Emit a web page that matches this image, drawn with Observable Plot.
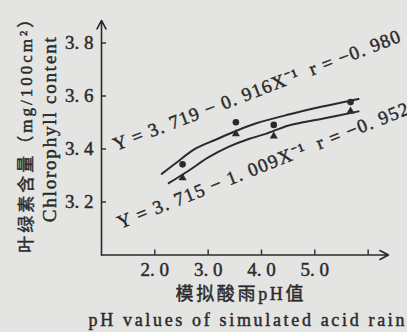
<!DOCTYPE html>
<html>
<head>
<meta charset="utf-8">
<script src="https://cdn.jsdelivr.net/npm/d3@7"></script>
<script src="https://cdn.jsdelivr.net/npm/@observablehq/plot@0.6"></script>
<style>
html, body { margin: 0; padding: 0; background: #e4e4e2; }
svg { display: block; }
</style>
</head>
<body>
<div id="chart"></div>
<script>
// ---- data ----
const phCircle = [2.52, 3.52, 4.23, 5.67];
const chlCircle = [3.342, 3.501, 3.491, 3.577];
const phTriangle = [2.52, 3.52, 4.23, 5.67];
const chlTriangle = [3.291, 3.457, 3.448, 3.543];

const fitUpperX = [2.13, 2.39, 2.76, 3.14, 3.51, 3.89, 4.51, 5.14, 5.82];
const fitUpperY = [3.306, 3.346, 3.401, 3.435, 3.467, 3.496, 3.530, 3.560, 3.589];
const fitLowerX = [2.26, 2.64, 3.01, 3.39, 3.76, 4.08, 4.51, 5.14, 5.82];
const fitLowerY = [3.271, 3.319, 3.369, 3.409, 3.438, 3.457, 3.489, 3.514, 3.542];

const xTicks = [2, 3, 4, 5, 6];
const xTickLabels = ["2. 0", "3. 0", "4. 0", "5. 0", ""];
const yTicks = [3.2, 3.4, 3.6, 3.8];
const yTickLabels = ["3. 2", "3. 4", "3. 6", "3. 8"];

const axisOrigin = [1.0, 3.0];
const axisEnds = [6.38, 3.885];

const eqLabels = ["Y = 3. 719 − 0. 916X⁻¹  r = −0. 980", "Y = 3. 715 − 1. 009X⁻¹  r = −0. 952"];
const eqX = [1.27, 1.35];
const eqY = [3.392, 3.098];

const yTitleCN = "叶绿素含量（mg/100cm²）";
const yTitleEN = "Chlorophyll content";
const xTitleCN = "模拟酸雨pH值";
const xTitleEN = "pH values of simulated acid rain";

// ---- chart ----
const ink = "#2a2a2a";
const serif = "'Liberation Serif', 'Noto Sans CJK SC', serif";
const heavy = { fill: ink, stroke: ink, strokeWidth: 0.45 };

const svg = Plot.plot({
  width: 407,
  height: 332,
  marginLeft: 101,
  marginRight: 18,
  marginTop: 16,
  marginBottom: 77.5,
  x: { domain: [1, 6.4] },
  y: { domain: [3, 3.9] },
  style: { background: "#e4e4e2", color: ink, fontFamily: serif, fontSize: "19px" },
  marks: [
    // axis lines with arrowheads
    Plot.arrow([0], { x1: axisOrigin[0], y1: axisOrigin[1], x2: axisEnds[0], y2: axisOrigin[1], stroke: ink, strokeWidth: 1.6, headLength: 9, headAngle: 55 }),
    Plot.arrow([0], { x1: axisOrigin[0], y1: axisOrigin[1], x2: axisOrigin[0], y2: axisEnds[1], stroke: ink, strokeWidth: 1.6, headLength: 9, headAngle: 55 }),
    // inward ticks
    Plot.axisX(xTicks, { tickSize: -5, fill: "none", stroke: ink, strokeWidth: 1.4, label: null }),
    Plot.axisY(yTicks, { tickSize: -5, fill: "none", stroke: ink, strokeWidth: 1.4, label: null }),
    // tick labels
    Plot.axisX(xTicks, { tickSize: 0, tickPadding: 7, stroke: "none", fill: ink, fontSize: 19, label: null,
      tickFormat: d => xTickLabels[xTicks.indexOf(d)] }),
    Plot.axisY(yTicks, { tickSize: 0, tickPadding: 8, stroke: "none", fill: ink, fontSize: 19, label: null,
      tickFormat: d => yTickLabels[yTicks.findIndex(t => Math.abs(t - d) < 1e-9)] }),
    // fitted curves
    Plot.line(fitUpperX, { x: d => d, y: (d, i) => fitUpperY[i], curve: "catmull-rom", stroke: ink, strokeWidth: 2 }),
    Plot.line(fitLowerX, { x: d => d, y: (d, i) => fitLowerY[i], curve: "catmull-rom", stroke: ink, strokeWidth: 2 }),
    // observations
    Plot.dot(phCircle, { x: d => d, y: (d, i) => chlCircle[i], r: 3.3, fill: ink, stroke: "none" }),
    Plot.dot(phTriangle, { x: d => d, y: (d, i) => chlTriangle[i], r: 3, symbol: "triangle", fill: ink, stroke: "none" }),
    // regression equations
    Plot.text(eqLabels, { x: (d, i) => eqX[i], y: (d, i) => eqY[i], text: d => d,
      rotate: (d, i) => [-21, -21.7][i], textAnchor: "start", lineAnchor: "bottom", fontSize: 19, ...heavy }),
    // axis titles
    Plot.text([yTitleCN], { frameAnchor: "left", textAnchor: "middle", dx: -75, dy: -4, rotate: -90, text: d => d, fontSize: 17, lineAnchor: "middle", ...heavy }),
    Plot.text([yTitleEN], { frameAnchor: "left", textAnchor: "middle", dx: -52, dy: -6, rotate: -90, text: d => d, fontSize: 19, lineAnchor: "middle", ...heavy }),
    Plot.text([xTitleCN], { frameAnchor: "bottom", textAnchor: "middle", dx: -6, dy: 39.7, text: d => d, fontSize: 18, lineAnchor: "middle", ...heavy }),
    Plot.text([xTitleEN], { frameAnchor: "bottom", textAnchor: "middle", dx: 1, dy: 65.5, text: d => d, fontSize: 18, lineAnchor: "middle", ...heavy })
  ]
});

// thicken tick labels slightly like the printed original
d3.select(svg).selectAll("g[aria-label='x-axis tick label'] text, g[aria-label='y-axis tick label'] text")
  .attr("stroke", ink).attr("stroke-width", 0.45);

function fit(str, len) {
  d3.select(svg).selectAll("text")
    .filter(function () { return this.textContent === str; })
    .attr("textLength", len)
    .attr("lengthAdjust", "spacing");
}
fit(eqLabels[0], 306);
fit(eqLabels[1], 312);
fit(yTitleCN, 242);
fit(yTitleEN, 185);
fit(xTitleCN, 128);
fit(xTitleEN, 316);

document.getElementById("chart").appendChild(svg);
</script>
</body>
</html>
